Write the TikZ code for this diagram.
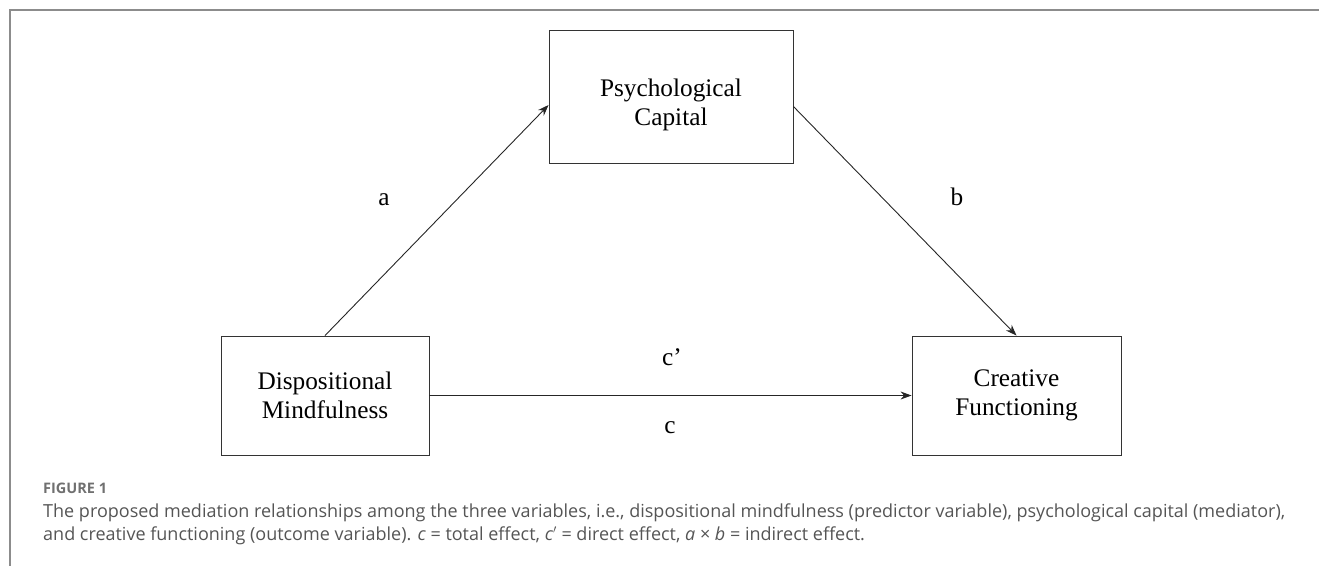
\documentclass[tikz,border=0pt]{standalone}
\usepackage{fontspec}
\setmainfont{Liberation Serif}
\newfontfamily\capfont{Open Sans}
\usetikzlibrary{arrows.meta}
\definecolor{framegray}{HTML}{8C8C8C}
\definecolor{captext}{HTML}{555555}
\definecolor{figlabel}{HTML}{707070}
\tikzset{
  varbox/.style={draw=black!80, line width=0.9pt, minimum width=#1, align=center, font=\fontsize{25.3}{29.5}\selectfont, inner sep=0pt},
  boxtext/.style={align=center, font=\fontsize{25.3}{29.5}\selectfont, inner sep=0pt},
  conn/.style={draw=black!85, line width=0.9pt, -{Stealth[length=11pt,width=8pt]}},
  lbl/.style={font=\fontsize{25.3}{30}\selectfont, inner sep=0pt, anchor=base},
  captxt/.style={anchor=base west, inner sep=0pt, text=captext, font=\capfont\fontsize{18}{22}\selectfont}
}
\begin{document}
\begin{tikzpicture}[x=1pt,y=-1pt]
\useasboundingbox (0,0) rectangle (1319,565);
\draw[framegray, line width=2pt] (10,566) -- (10,10) -- (1320,10);
\node[varbox=244pt, minimum height=133pt] (psy) at (671,96.5) {};
\node[boxtext] (psyt) at ([yshift=-8.5pt]psy.center) {Psychological\\Capital};
\node[varbox=208pt, minimum height=119pt] (dm) at (325,395.5) {Dispositional\\Mindfulness};
\node[varbox=209pt, minimum height=119pt] (cf) at (1016.5,395.5) {Creative\\Functioning};
\draw[conn] (dm.north) -- ([yshift=-8.5pt]psy.west);
\draw[conn] ([yshift=-10pt]psy.east) -- (cf.north);
\draw[conn] (dm.east) -- (cf.west);
\node[lbl] (la) at (384,205) {a};
\node[lbl] (lb) at (957,205) {b};
\node[lbl] (lcp) at (672,365) {c’};
\node[lbl] (lc) at (670,433) {c};
\node[captxt, font=\capfont\bfseries\fontsize{14.5}{18}\selectfont, text=figlabel] (fig) at (43,493) {FIGURE 1};
\node[captxt] (l1) at (43,517) {The proposed mediation relationships among the three variables, i.e., dispositional mindfulness (predictor variable), psychological capital (mediator),};
\node[captxt] (l2) at (43,540) {and creative functioning (outcome variable). \textit{c}\ =\ total effect, \textit{c}$'$\ =\ direct effect, \textit{a}\ ×\ \textit{b}\ =\ indirect effect.};
\end{tikzpicture}
\end{document}
